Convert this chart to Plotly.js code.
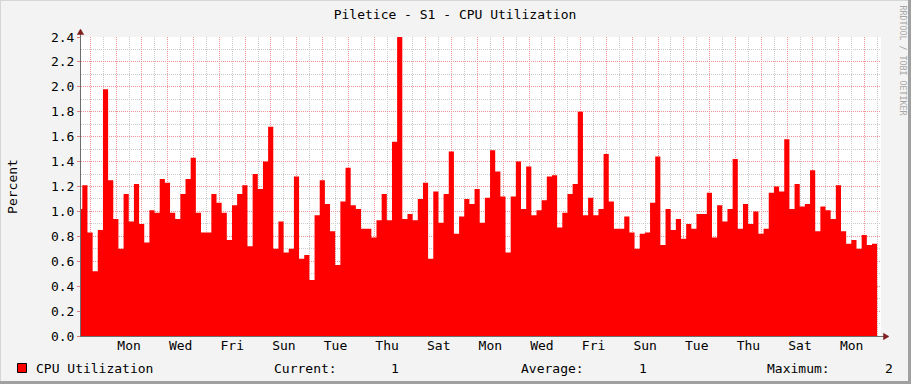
<!DOCTYPE html>
<html>
<head>
<meta charset="utf-8">
<script src="https://cdn.plot.ly/plotly-3.0.1.min.js"></script>
<style>
  html, body { margin: 0; padding: 0; background: #F3F3F3; }
  #wrap { position: relative; width: 911px; height: 384px; overflow: hidden; }
  #chart { position: absolute; left: 0; top: 0; width: 911px; height: 384px; }
  .edge { position: absolute; pointer-events: none; }
</style>
</head>
<body>
<div id="wrap">
  <div id="chart"></div>
  <div class="edge" style="left:0;top:0;width:911px;height:1px;background:#D6D6D6"></div>
  <div class="edge" style="left:0;top:0;width:1px;height:384px;background:#D6D6D6"></div>
  <div class="edge" style="left:908px;top:0;width:3px;height:384px;background:#A0A0A0"></div>
  <div class="edge" style="left:0;top:381px;width:911px;height:3px;background:#A0A0A0"></div>
</div>
<script>
// ---- data (CPU utilization, percent, one value per consolidation step) ----
const cpuValues = [
  1.02, 1.21, 0.83, 0.52, 0.85, 1.98, 1.25, 0.94, 0.70, 1.14,
  0.92, 1.22, 0.90, 0.75, 1.01, 0.99, 1.26, 1.23, 0.99, 0.94,
  1.14, 1.26, 1.43, 0.99, 0.83, 0.83, 1.14, 1.07, 0.99, 0.77,
  1.05, 1.14, 1.21, 0.72, 1.30, 1.18, 1.40, 1.68, 0.70, 0.92,
  0.67, 0.70, 1.28, 0.62, 0.65, 0.45, 0.97, 1.25, 1.06, 0.84,
  0.57, 1.08, 1.35, 1.05, 1.02, 0.86, 0.86, 0.79, 0.93, 1.14,
  0.93, 1.56, 2.40, 0.94, 0.98, 0.93, 1.10, 1.23, 0.62, 1.16,
  0.91, 1.14, 1.48, 0.82, 0.96, 1.10, 1.06, 1.18, 0.91, 1.11,
  1.49, 1.32, 1.12, 0.67, 1.12, 1.40, 1.02, 1.36, 0.97, 1.01,
  1.09, 1.28, 1.29, 0.87, 0.99, 1.14, 1.22, 1.80, 0.97, 1.11,
  0.97, 1.02, 1.46, 1.08, 0.86, 0.86, 0.96, 0.83, 0.70, 0.82,
  0.83, 1.07, 1.44, 0.73, 1.02, 0.85, 0.94, 0.78, 0.90, 0.86,
  0.98, 0.98, 1.15, 0.79, 1.05, 0.92, 1.02, 1.42, 0.86, 1.06,
  0.90, 1.00, 0.82, 0.86, 1.15, 1.20, 1.16, 1.58, 1.02, 1.22,
  1.04, 1.06, 1.33, 0.84, 1.04, 1.01, 0.94, 1.21, 0.84, 0.74,
  0.77, 0.70, 0.81, 0.73, 0.74
];
// time in days, relative to the first Sunday 00:00 shown
const seriesStartDay = -0.511;
const stepDays = 0.2;
const viewStartDay = -0.3615;
const viewDays = 31;
const dayLabels = ['Mon','Wed','Fri','Sun','Tue','Thu','Sat','Mon','Wed','Fri','Sun','Tue','Thu','Sat','Mon'];
const firstLabelDay = 1.5;   // Monday noon
const labelEveryDays = 2;
const yTicks = [0, 0.2, 0.4, 0.6, 0.8, 1.0, 1.2, 1.4, 1.6, 1.8, 2.0, 2.2, 2.4];

const seriesName = 'CPU Utilization';
const chartTitle = 'Piletice - S1 - CPU Utilization';
const yTitle = 'Percent';
const credit = 'RRDTOOL / TOBI OETIKER';

// ---- build ----
const FONT = '"DejaVu Sans Mono", "Liberation Mono", monospace';
const xs = [], ys = [];
cpuValues.forEach((v, i) => { xs.push(seriesStartDay + i * stepDays); ys.push(v); });
xs.push(seriesStartDay + cpuValues.length * stepDays);
ys.push(cpuValues[cpuValues.length - 1]);

const xRange = [viewStartDay, viewStartDay + viewDays];
const tickVals = dayLabels.map((_, i) => firstLabelDay + i * labelEveryDays);

const cur = cpuValues[cpuValues.length - 1];
const avg = cpuValues.reduce((a, b) => a + b, 0) / cpuValues.length;
const mx = Math.max(...cpuValues);

// pixel -> paper helpers for decorations (plot area 81..881 x 37..336)
const L = 81, R = 881, T = 37, B = 336;
const px = X => (X - L) / (R - L);
const py = Y => (B - Y) / (B - T);

const MAJOR = '#EE9494';
const MINOR = '#CBCBCB';
const DASH = '1px,1px';

const traces = [
  {
    type: 'scatter', mode: 'lines', x: xs, y: ys, name: seriesName,
    line: { shape: 'hv', width: 0, color: '#FF0000' },
    fill: 'tozeroy', fillcolor: '#FF0000',
    showlegend: false, hoverinfo: 'skip'
  },
  { type: 'scatter', mode: 'none', x: [], y: [], xaxis: 'x2', yaxis: 'y', showlegend: false, hoverinfo: 'skip' }
];

const arrowCol = '#7F1F1F';
const shapes = [
  // axis extensions
  { type: 'line', xref: 'paper', yref: 'paper', x0: px(80.5), x1: px(80.5), y0: py(37), y1: py(33), line: { color: '#6E6E6E', width: 1 } },
  { type: 'line', xref: 'paper', yref: 'paper', x0: px(881), x1: px(884), y0: py(336.5), y1: py(336.5), line: { color: '#6E6E6E', width: 1 } },
  // arrows
  { type: 'path', xref: 'paper', yref: 'paper', path: `M ${px(80.5)} ${py(29)} L ${px(77.3)} ${py(34.5)} L ${px(83.7)} ${py(34.5)} Z`, fillcolor: arrowCol, line: { color: arrowCol, width: 0.5 } },
  { type: 'path', xref: 'paper', yref: 'paper', path: `M ${px(889)} ${py(336.5)} L ${px(883.5)} ${py(333.3)} L ${px(883.5)} ${py(339.7)} Z`, fillcolor: arrowCol, line: { color: arrowCol, width: 0.5 } },
  // legend swatch
  { type: 'rect', xref: 'paper', yref: 'paper', x0: px(17.5), x1: px(26.5), y0: py(372.5), y1: py(363.5), fillcolor: '#FF0000', line: { color: '#000000', width: 1 } }
];

const tf = { family: FONT, size: 13, color: '#000000' };
const ann = (text, X, Y, xanchor) => ({ text, xref: 'paper', yref: 'paper', x: px(X), y: py(Y), xanchor, yanchor: 'middle', showarrow: false, font: tf, borderpad: 0 });
const annotations = [
  ann(seriesName, 34.5, 368, 'left'),
  ann('Current:', 272.5, 368, 'left'),
  ann(cur.toFixed(0), 400, 368, 'right'),
  ann('Average:', 520, 368, 'left'),
  ann(avg.toFixed(0), 648, 368, 'right'),
  ann('Maximum:', 765.5, 368, 'left'),
  ann(mx.toFixed(0), 894, 368, 'right'),
  { text: credit, xref: 'paper', yref: 'paper', x: px(902.5), y: py(60), xanchor: 'center', yanchor: 'middle',
    textangle: 90, showarrow: false, font: { family: FONT, size: 8.3, color: '#A6A6A6' }, borderpad: 0 }
];

const layout = {
  width: 911, height: 384,
  margin: { l: L, r: 911 - R, t: T, b: 384 - B, pad: 0 },
  paper_bgcolor: '#F3F3F3', plot_bgcolor: '#FFFFFF',
  font: tf,
  title: { text: chartTitle, font: tf, xref: 'container', yref: 'container', x: 455 / 911, xanchor: 'center', y: 1 - 14 / 384, yanchor: 'middle' },
  showlegend: false,
  xaxis: {
    range: xRange, tick0: 0, dtick: 1, showticklabels: false, ticks: '',
    showgrid: true, gridcolor: MAJOR, griddash: DASH, gridwidth: 1,
    minor: { tick0: 0, dtick: 0.5, showgrid: true, gridcolor: MINOR, griddash: DASH, gridwidth: 1 },
    zeroline: false, showline: true, linecolor: '#6E6E6E', linewidth: 1, fixedrange: true
  },
  xaxis2: {
    overlaying: 'x', anchor: 'y', side: 'bottom', range: xRange,
    tickmode: 'array', tickvals: tickVals, ticktext: dayLabels,
    showgrid: false, zeroline: false, ticks: '', tickfont: tf, showline: false, fixedrange: true
  },
  yaxis: {
    range: [0, 2.4], tickmode: 'array', tickvals: yTicks, ticktext: yTicks.map(v => v.toFixed(1)),
    showgrid: true, gridcolor: MAJOR, griddash: DASH, gridwidth: 1,
    minor: { dtick: 0.1, tick0: 0, showgrid: true, gridcolor: MINOR, griddash: DASH, gridwidth: 1 },
    ticks: 'outside', ticklen: 3, tickcolor: '#E08080',
    zeroline: false, showline: true, linecolor: '#6E6E6E', linewidth: 1,
    tickfont: tf, fixedrange: true,
    title: { text: yTitle, font: tf, standoff: 30 }
  },
  shapes, annotations
};

Plotly.newPlot('chart', traces, layout, { staticPlot: true, displayModeBar: false });
</script>
</body>
</html>
